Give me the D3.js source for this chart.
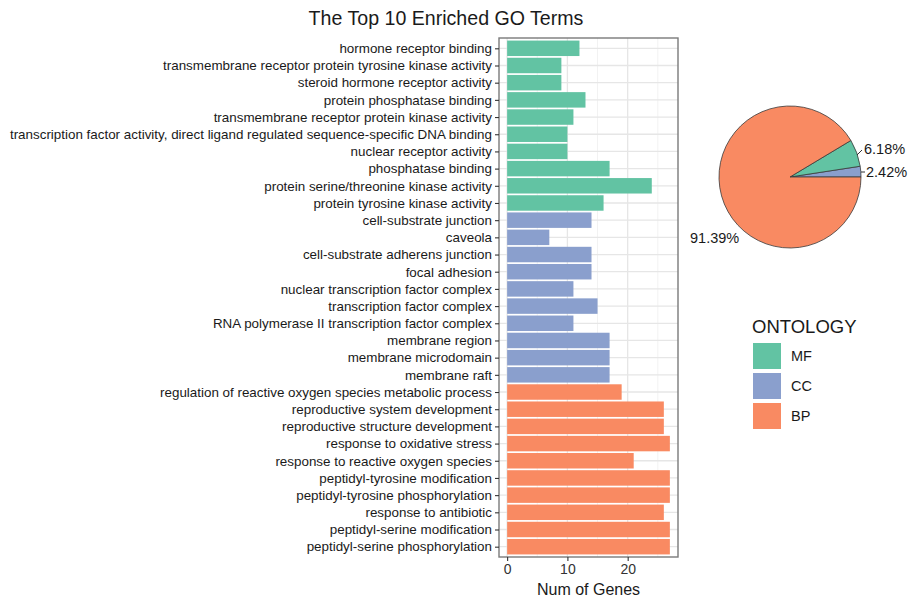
<!DOCTYPE html>
<html>
<head>
<meta charset="utf-8">
<script src="https://cdn.jsdelivr.net/npm/d3@7"></script>
<style>
  html, body { margin: 0; padding: 0; background: #fff; }
  svg { display: block; font-family: "Liberation Sans", Arial, sans-serif; }
</style>
</head>
<body>
<svg id="chart" width="912" height="598"></svg>
<script>
// GO terms, top to bottom, with gene counts and ontology
const mfTerms = [
  "hormone receptor binding",
  "transmembrane receptor protein tyrosine kinase activity",
  "steroid hormone receptor activity",
  "protein phosphatase binding",
  "transmembrane receptor protein kinase activity",
  "transcription factor activity, direct ligand regulated sequence-specific DNA binding",
  "nuclear receptor activity",
  "phosphatase binding",
  "protein serine/threonine kinase activity",
  "protein tyrosine kinase activity"
];
const mfCounts = [12, 9, 9, 13, 11, 10, 10, 17, 24, 16];

const ccTerms = [
  "cell-substrate junction",
  "caveola",
  "cell-substrate adherens junction",
  "focal adhesion",
  "nuclear transcription factor complex",
  "transcription factor complex",
  "RNA polymerase II transcription factor complex",
  "membrane region",
  "membrane microdomain",
  "membrane raft"
];
const ccCounts = [14, 7, 14, 14, 11, 15, 11, 17, 17, 17];

const bpTerms = [
  "regulation of reactive oxygen species metabolic process",
  "reproductive system development",
  "reproductive structure development",
  "response to oxidative stress",
  "response to reactive oxygen species",
  "peptidyl-tyrosine modification",
  "peptidyl-tyrosine phosphorylation",
  "response to antibiotic",
  "peptidyl-serine modification",
  "peptidyl-serine phosphorylation"
];
const bpCounts = [19, 26, 26, 27, 21, 27, 27, 26, 27, 27];

const ontologies = ["MF", "CC", "BP"];
const ontologyColors = ["#62C3A3", "#8A9FCD", "#F98A62"];

// Share of each ontology shown in the pie
const pieOrder = ["CC", "MF", "BP"];
const piePercents = [2.42, 6.18, 91.39];

const xTicks = [0, 10, 20];

// ---- assemble rows
const rows = [];
[[mfTerms, mfCounts, "MF"], [ccTerms, ccCounts, "CC"], [bpTerms, bpCounts, "BP"]]
  .forEach(([terms, counts, ont]) => terms.forEach((t, i) => rows.push({ term: t, count: counts[i], ont })));

const svg = d3.select("#chart");
const color = d3.scaleOrdinal().domain(ontologies).range(ontologyColors);

// ---- bar panel
const panel = { left: 499, right: 678, top: 38, bottom: 557 };
const maxCount = d3.max(rows, d => d.count);
const pad = maxCount * 0.05;
const x = d3.scaleLinear().domain([-pad, maxCount + pad]).range([panel.left, panel.right]);

// discrete axis with ggplot-style 0.6 unit padding
const n = rows.length;
const step = (panel.bottom - panel.top) / (n - 1 + 1.2);
const y = d3.scalePoint().domain(rows.map(d => d.term))
  .range([panel.top + 0.6 * step, panel.bottom - 0.6 * step]);
const barH = step * 0.9;

const g = svg.append("g");

// minor vertical grid
g.append("g").selectAll("line").data([5, 15, 25]).join("line")
  .attr("x1", d => x(d)).attr("x2", d => x(d))
  .attr("y1", panel.top).attr("y2", panel.bottom)
  .attr("stroke", "#f2f2f2").attr("stroke-width", 1);
// major vertical grid
g.append("g").selectAll("line").data(xTicks).join("line")
  .attr("x1", d => x(d)).attr("x2", d => x(d))
  .attr("y1", panel.top).attr("y2", panel.bottom)
  .attr("stroke", "#e6e6e6").attr("stroke-width", 1.3);
// horizontal grid
g.append("g").selectAll("line").data(rows).join("line")
  .attr("x1", panel.left).attr("x2", panel.right)
  .attr("y1", d => y(d.term)).attr("y2", d => y(d.term))
  .attr("stroke", "#e6e6e6").attr("stroke-width", 1.3);

// bars
g.append("g").selectAll("rect").data(rows).join("rect")
  .attr("x", x(0))
  .attr("y", d => y(d.term) - barH / 2)
  .attr("width", d => x(d.count) - x(0))
  .attr("height", barH)
  .attr("fill", d => color(d.ont));

// panel border
g.append("rect")
  .attr("x", panel.left).attr("y", panel.top)
  .attr("width", panel.right - panel.left).attr("height", panel.bottom - panel.top)
  .attr("fill", "none").attr("stroke", "#7a7a7a").attr("stroke-width", 1.4);

// y axis
const yAxis = g.append("g")
  .attr("transform", `translate(${panel.left},0)`)
  .call(d3.axisLeft(y).tickSize(4).tickPadding(3));
yAxis.select(".domain").remove();
yAxis.selectAll(".tick line").attr("stroke", "#333").attr("stroke-width", 1.1);
yAxis.selectAll(".tick text").attr("fill", "#1a1a1a")
  .style("font-size", "13.4px").style("font-family", "'Liberation Sans', Arial, sans-serif");

// x axis
const xAxis = g.append("g")
  .attr("transform", `translate(0,${panel.bottom})`)
  .call(d3.axisBottom(x).tickValues(xTicks).tickSize(4).tickPadding(3));
xAxis.select(".domain").remove();
xAxis.selectAll(".tick line").attr("stroke", "#333").attr("stroke-width", 1.1);
xAxis.selectAll(".tick text").attr("fill", "#333")
  .style("font-size", "14px").style("font-family", "'Liberation Sans', Arial, sans-serif");

// axis title
svg.append("text")
  .attr("x", (panel.left + panel.right) / 2).attr("y", 595)
  .attr("text-anchor", "middle").attr("fill", "#1a1a1a")
  .style("font-size", "16px").text("Num of Genes");

// chart title
svg.append("text")
  .attr("x", 446).attr("y", 25)
  .attr("text-anchor", "middle").attr("fill", "#1a1a1a")
  .style("font-size", "19.6px").text("The Top 10 Enriched GO Terms");

// ---- pie (counter-clockwise from 3 o'clock)
const cx = 790, cy = 177, r = 71;
const pieData = pieOrder.map((k, i) => ({ key: k, value: piePercents[i] }));
const pie = d3.pie().value(d => d.value).sort(null)
  .startAngle(Math.PI / 2).endAngle(Math.PI / 2 - 2 * Math.PI);
const arcs = pie(pieData);
const arc = d3.arc().innerRadius(0).outerRadius(r);

const pg = svg.append("g").attr("transform", `translate(${cx},${cy})`);
pg.selectAll("path").data(arcs).join("path")
  .attr("d", arc)
  .attr("fill", d => color(d.data.key))
  .attr("stroke", "#3a3a3a").attr("stroke-width", 0.8);

// pie labels
const pieLabelPos = {
  MF: { x: 864, y: 154, lx1: 857, ly1: 155, lx2: 862, ly2: 150 },
  CC: { x: 866, y: 177, lx1: 861, ly1: 172, lx2: 865, ly2: 172 },
  BP: { x: 690, y: 243, lx1: null }
};
arcs.forEach(a => {
  const p = pieLabelPos[a.data.key];
  if (p.lx1 !== null) {
    svg.append("line").attr("x1", p.lx1).attr("y1", p.ly1).attr("x2", p.lx2).attr("y2", p.ly2)
      .attr("stroke", "#333").attr("stroke-width", 1);
  }
  svg.append("text").attr("x", p.x).attr("y", p.y)
    .attr("fill", "#1a1a1a").style("font-size", "14.5px")
    .text(d3.format(".2f")(a.data.value) + "%");
});

// ---- legend
const lg = svg.append("g");
lg.append("text").attr("x", 752).attr("y", 333)
  .attr("fill", "#1a1a1a").style("font-size", "18.5px").text("ONTOLOGY");
ontologies.forEach((o, i) => {
  const top = 343 + i * 30;
  lg.append("rect").attr("x", 753).attr("y", top).attr("width", 28).attr("height", 26)
    .attr("fill", color(o));
  lg.append("text").attr("x", 791).attr("y", top + 18)
    .attr("fill", "#1a1a1a").style("font-size", "14.5px").text(o);
});
</script>
</body>
</html>
